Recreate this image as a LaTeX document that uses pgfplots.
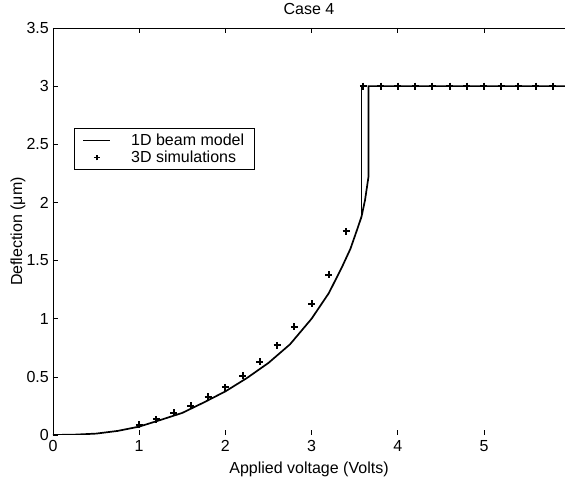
\documentclass[border=0pt]{standalone}
\usepackage{pgfplots}
\pgfplotsset{compat=1.18}
\usepackage{fontspec}
\setmainfont{Liberation Sans}
\usetikzlibrary{calc}
\begin{document}
\begin{tikzpicture}
\begin{axis}[
  scale only axis,
  width=512pt, height=407pt,
  xmin=0, xmax=5.94, ymin=0, ymax=3.5,
  xtick={0,1,2,3,4,5},
  ytick={0,0.5,1,1.5,2,2.5,3,3.5},
  yticklabels={0,0.5,1,1.5,2,2.5,3,3.5},
  xticklabels={0,1,2,3,4,5},
  tick align=inside,
  xtick pos=both, ytick pos=left,
  major tick length=5pt,
  tick style={black, line width=0.6pt},
  axis line style={draw=none},
  font=\fontsize{16}{19}\selectfont,
  tick label style={font=\fontsize{16}{19}\selectfont},
  yticklabel style={inner sep=0pt, xshift=-4pt},
  xticklabel style={inner sep=0pt, yshift=-5.5pt},
  title={Case 4},
  title style={at={(rel axis cs:0.5,1)}, anchor=base, yshift=7.5pt, font=\fontsize{16}{19}\selectfont},
  xlabel={Applied voltage (Volts)},
  ylabel={Deflection (μm)},
  xlabel style={at={(rel axis cs:0.5,0)}, anchor=base, yshift=-38pt, font=\fontsize{16}{19}\selectfont},
  ylabel style={at={(rel axis cs:0,0.5)}, anchor=center, yshift=35pt, font=\fontsize{16}{19}\selectfont},
  legend style={at={(rel axis cs:0.041,0.754)}, anchor=north west, draw=black, line width=0.8pt, font=\fontsize{16}{19}\selectfont, inner xsep=8pt, inner ysep=3.5pt, row sep=0pt, column sep=10pt, nodes={inner xsep=2pt, inner ysep=2pt}, cells={anchor=west}},
  legend cell align=left,
  clip=true,
]
\addplot[black, line width=1.7pt, no marks, legend image code/.code={\draw[black, line width=1.8pt] (0pt,0pt) -- (27pt,0pt);}] coordinates {
(0,0) (0.25,0.003) (0.5,0.012) (0.75,0.035) (1.0,0.072) (1.25,0.13) (1.5,0.19) (1.75,0.28) (2.0,0.375) (2.25,0.49) (2.5,0.62) (2.75,0.78) (3.0,1.00) (3.2,1.22) (3.35,1.44) (3.45,1.60) (3.53,1.77) (3.58,1.88) (3.62,2.02) (3.66,2.22) (3.66,3.0) (6.0,3.0)
};
\addlegendentry{\hspace{8pt}1D beam model\hspace{6pt}}
\addplot[black, only marks, mark=+, mark size=3.5pt, mark options={line width=2pt}, legend image code/.code={\draw[black, line width=1.5pt] (13.5pt,-2.8pt) -- (13.5pt,2.8pt) (10.7pt,0pt) -- (16.3pt,0pt); \path (0pt,0pt) (27pt,0pt);}] coordinates {
(1.0,0.09) (1.2,0.135) (1.4,0.19) (1.6,0.25) (1.8,0.33) (2.0,0.41) (2.2,0.51) (2.4,0.63) (2.6,0.77) (2.8,0.93) (3.0,1.13) (3.2,1.38) (3.4,1.75)
(3.6,3) (3.8,3) (4.0,3) (4.2,3) (4.4,3) (4.6,3) (4.8,3) (5.0,3) (5.2,3) (5.4,3) (5.6,3) (5.8,3)
};
\addlegendentry{\hspace{8pt}3D simulations}
\addplot[black, line width=1.7pt, no marks, forget plot] coordinates {(3.58,1.86) (3.58,3.0)};
\draw[black, line width=0.8pt] (rel axis cs:1,0) -- (rel axis cs:0,0) -- (rel axis cs:0,1) -- (rel axis cs:1,1);
\end{axis}
\pgfresetboundingbox
\path ($(current axis.south west)+(-53pt,-44pt)$) rectangle ($(current axis.north east)+(0pt,28pt)$);
\end{tikzpicture}
\end{document}
